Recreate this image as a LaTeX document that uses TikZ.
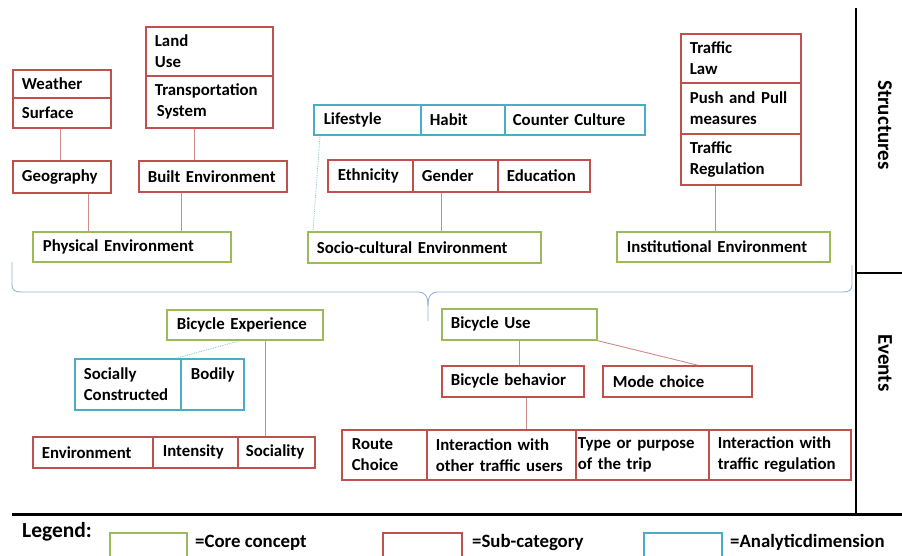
\documentclass[tikz,border=0pt]{standalone}
\usepackage{fontspec}
\setmainfont{Carlito}
\hyphenpenalty=10000
\exhyphenpenalty=10000
\hbadness=10000
\hfuzz=20pt
\definecolor{cgreen}{HTML}{9BBB59}
\definecolor{cred}{HTML}{C0504D}
\definecolor{cblue}{HTML}{4BACC6}
\definecolor{clink}{HTML}{D08A88}
\definecolor{cbrace}{HTML}{95B3D7}
\newcommand\cellbox[8]{%
  \pgfmathsetmacro\cbw{#5-#3}%
  \pgfmathsetmacro\cbh{#6-#4}%
  \pgfmathsetmacro\cbtw{#5-#3-2*#7}%
  \node[boxcell, draw=#2, anchor=north west, minimum width=\cbw pt,
        minimum height=\cbh pt, text width=\cbtw pt, inner xsep=#7pt]
        (#1) at (#3,#4) {#8};}
\begin{document}
\begin{tikzpicture}[x=1pt,y=-1pt,
  boxcell/.style={line width=1.7pt, inner ysep=0pt, align=left,
     font=\fontsize{16.8}{21}\selectfont\bfseries},
  link/.style={draw=clink, line width=0.9pt},
  dlink/.style={draw=cblue!70, line width=0.8pt, densely dotted},
  bar/.style={draw=black, line width=2pt},
  sidetext/.style={rotate=-90, font=\fontsize{21}{24}\selectfont\bfseries, inner sep=0pt},
  legtext/.style={font=\fontsize{18.8}{21}\selectfont\bfseries, inner sep=0pt, anchor=base west}]
\useasboundingbox (0,0) rectangle (902,555);
\fill[white] (0,0) rectangle (902,555);

% ---------- Physical environment ----------
\cellbox{weat}{cred}{12}{69}{110}{97}{9}{Weather}
\cellbox{surf}{cred}{12}{97}{110}{127}{9}{Surface}
\cellbox{land}{cred}{145}{26}{272}{75}{9}{Land\\Use}
\cellbox{trans}{cred}{145}{75}{272}{127}{9}{Transportation\\\hspace*{2pt}System}
\cellbox{geo}{cred}{12}{160}{110}{192}{9}{Geography}
\cellbox{built}{cred}{138}{160}{286}{191}{9}{Built Environment}
\cellbox{phys}{cgreen}{32}{231}{230}{261}{10}{Physical Environment}

% ---------- Socio-cultural ----------
\cellbox{life}{cblue}{313}{104}{420}{134}{10}{Lifestyle}
\cellbox{habit}{cblue}{420}{104}{504}{134}{9}{Habit}
\cellbox{cc}{cblue}{504}{104}{644}{134}{8}{Counter Culture}
\cellbox{eth}{cred}{327}{159}{412}{191}{10}{Ethnicity}
\cellbox{gend}{cred}{412}{159}{497}{191}{9}{Gender}
\cellbox{edu}{cred}{497}{159}{589}{191}{9}{Education}
\cellbox{socio}{cgreen}{307}{231}{540}{262}{9}{Socio-cultural Environment}

% ---------- Institutional ----------
\cellbox{tlaw}{cred}{680}{33}{800}{82}{9}{Traffic\\Law}
\cellbox{push}{cred}{680}{82}{800}{133}{9}{Push and Pull\\measures}
\cellbox{treg}{cred}{680}{133}{800}{184}{9}{Traffic\\Regulation}
\cellbox{inst}{cgreen}{616}{231}{829}{261}{10}{Institutional Environment}

% ---------- Bicycle experience ----------
\cellbox{bexp}{cgreen}{166}{309}{322}{339}{10}{Bicycle Experience}
\cellbox{socc}{cblue}{74}{358}{180}{409}{9}{Socially\\Constructed}
\cellbox{bod}{cblue}{180}{358}{243}{409}{10}{Bodily\\\mbox{}}
\cellbox{env}{cred}{32}{436}{152}{467}{9}{Environment}
\cellbox{inten}{cred}{152}{436}{237}{467}{10}{Intensity}
\cellbox{soci}{cred}{237}{436}{314}{467}{8}{Sociality}

% ---------- Bicycle use ----------
\cellbox{buse}{cgreen}{441}{308}{596}{339}{9}{Bicycle Use}
\cellbox{bbeh}{cred}{441}{365}{583}{396}{9}{Bicycle behavior}
\cellbox{mode}{cred}{602}{365}{751}{396}{10}{Mode choice}
\cellbox{route}{cred}{341}{429}{426}{479}{10}{Route\\Choice}
\cellbox{inter}{cred}{426}{429}{575}{479}{9}{Interaction with\\other traffic users}
\cellbox{type}{cred}{575}{429}{708}{479}{2}{Type or purpose\\of the trip}
\cellbox{intreg}{cred}{708}{429}{850}{479}{9}{Interaction with\\traffic regulation}

% ---------- connectors ----------
\draw[link] ([xshift=48pt]surf.south west) -- ([xshift=48pt]geo.north west);
\draw[link] ([xshift=76pt]geo.south west) -- ([xshift=56pt]phys.north west);
\draw[link] ([xshift=49pt]trans.south west) -- ([xshift=56pt]built.north west);
\draw[link] ([xshift=43pt]built.south west) -- ([xshift=149pt]phys.north west);
\draw[link] ([xshift=29pt]gend.south west) -- ([xshift=134pt]socio.north west);
\draw[dlink] ([xshift=7pt]life.south west) -- ([xshift=6pt]socio.north west);
\draw[link] ([xshift=35pt]treg.south west) -- ([xshift=99pt]inst.north west);
\draw[link] ([xshift=99pt]bexp.south west) -- ([xshift=28pt]soci.north west);
\draw[dlink] ([xshift=74pt]bexp.south west) -- ([xshift=103pt]socc.north west);
\draw[link] ([xshift=78pt]buse.south west) -- ([xshift=78pt]bbeh.north west);
\draw[link] (buse.south east) -- ([xshift=95pt]mode.north west);
\draw[link] ([xshift=85pt]bbeh.south west) -- ([xshift=100pt]inter.north west);

% ---------- brace ----------
\draw[cbrace, line width=0.9pt]
  (12,262) -- (12,284) .. controls (12,290) and (14,292) .. (22,292)
  -- (418,292) .. controls (425,292) and (428,296) .. (428,306) -- (428,321);
\draw[cbrace, line width=0.9pt]
  (428,306) .. controls (428,296) and (431,292) .. (438,292)
  -- (842,292) .. controls (850,292) and (852,290) .. (852,284) -- (852,265);

% ---------- frame lines ----------
\coordinate (vtop) at (856,8);
\coordinate (vbot) at (856,514);
\coordinate (hleft) at (12,514);
\coordinate (hright) at (902,514);
\coordinate (mleft) at (856,273);
\coordinate (mright) at (902,273);
\draw[bar] (vtop) -- (vbot);
\draw[bar, line width=3pt] (hleft) -- (hright);
\draw[bar] (mleft) -- (mright);
\node[sidetext] (struct) at (885,125) {Structures};
\node[sidetext] (events) at (885,363) {Events};

% ---------- legend ----------
\node[font=\fontsize{21.5}{24}\selectfont\bfseries, inner sep=0pt, anchor=base west] (legend) at (22,537) {Legend:};
\draw[cgreen, line width=1.7pt] (110,533) rectangle (187,565);
\node[legtext] (lcore) at (195,547) {=Core concept};
\draw[cred, line width=1.7pt] (383,533) rectangle (462,565);
\node[legtext] (lsub) at (472,547) {=Sub-category};
\draw[cblue, line width=1.7pt] (644,533) rectangle (722,565);
\node[legtext] (lana) at (730,547) {=Analyticdimension};
\end{tikzpicture}
\end{document}
